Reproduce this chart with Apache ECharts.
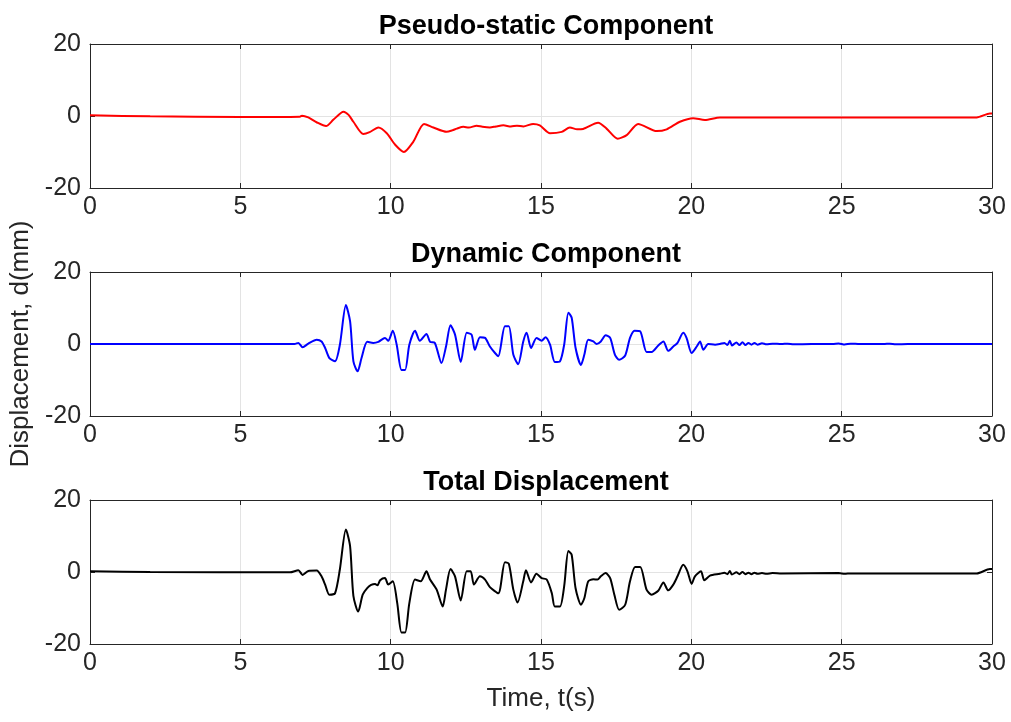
<!DOCTYPE html>
<html>
<head>
<meta charset="utf-8">
<script src="https://cdn.jsdelivr.net/npm/echarts@6/dist/echarts.min.js"></script>
<style>
  html, body { margin: 0; padding: 0; background: #fff; }
  #chart { width: 1011px; height: 722px; }
</style>
</head>
<body>
<div id="chart"></div>
<script>
// 时间轴刻度
const xTicks = [0, 5, 10, 15, 20, 25, 30];
const yTicks = [-20, 0, 20];
const titles = ['Pseudo-static Component', 'Dynamic Component', 'Total Displacement'];

// [t(s), d(mm)] 从图上读取
const pseudoStatic = [
  [0, 0.2], [2, -0.1], [5, -0.3], [6.98, -0.2], [7.05, 0.1], [7.26, -0.4], [7.55, -1.8],
  [7.85, -2.8], [8.1, -1.0], [8.43, 1.2], [8.6, 0.3], [8.76, -1.6], [9.09, -5.0], [9.3, -4.5],
  [9.59, -3.2], [9.87, -4.8], [10.15, -8.0], [10.44, -10.0], [10.75, -7.2], [11.11, -2.2],
  [11.42, -3.2], [11.86, -4.4], [12.05, -4.0], [12.2, -3.5], [12.42, -3.0], [12.6, -3.2],
  [12.86, -2.7], [13.05, -3.0], [13.3, -3.2], [13.5, -2.9], [13.75, -2.6], [14.0, -2.9],
  [14.2, -2.7], [14.41, -2.9], [14.74, -2.2], [14.96, -2.6], [15.3, -4.8], [15.69, -4.4],
  [15.96, -3.2], [16.2, -3.7], [16.4, -3.6], [16.9, -1.9], [17.18, -3.5], [17.55, -6.3],
  [17.85, -5.3], [18.23, -2.2], [18.85, -4.2], [19.18, -3.7], [19.62, -1.6], [20.06, -0.6],
  [20.45, -1.1], [20.95, -0.4], [29.49, -0.4], [29.93, 0.7], [30, 0.7]
];

const dynamic = [
  [0, 0], [6.8, 0], [6.93, 0.3], [7.07, -0.9], [7.26, 0.1], [7.54, 1.2], [7.7, 0.7], [7.82, -1.1],
  [7.96, -3.9], [8.15, -4.8], [8.31, -0.2], [8.51, 10.8], [8.65, 6.3], [8.76, -4.8], [8.9, -7.6],
  [9.03, -3.9], [9.22, 0.6], [9.42, 0.3], [9.59, 0.6], [9.81, 1.7], [9.92, 0.9], [10.07, 3.7],
  [10.2, -0.2], [10.36, -7.2], [10.48, -7.2], [10.62, -0.2], [10.81, 3.7], [10.97, 0.9],
  [11.19, 2.8], [11.31, 0.6], [11.47, 0.3], [11.69, -5.3], [11.84, -0.7], [11.99, 5.2],
  [12.14, 2.6], [12.33, -5.0], [12.53, 3.1], [12.69, 2.6], [12.8, -1.6], [12.97, 1.9],
  [13.14, 1.7], [13.3, -0.7], [13.47, -2.5], [13.58, -3.4], [13.8, 4.9], [13.93, 4.9],
  [14.08, -3.0], [14.24, -5.6], [14.41, 0.7], [14.52, 3.1], [14.67, -1.1], [14.85, 1.7],
  [15.02, 0.9], [15.15, 1.9], [15.3, -0.2], [15.46, -5.0], [15.63, -4.8], [15.77, -0.2],
  [15.91, 8.7], [16.02, 7.3], [16.15, -1.1], [16.33, -5.8], [16.44, -3.0], [16.57, 1.2],
  [16.74, 0.7], [16.85, 0], [16.99, 0.7], [17.15, 2.4], [17.3, 1.7], [17.46, -3.0], [17.6, -4.4],
  [17.8, -3.2], [17.96, 1.7], [18.11, 3.7], [18.3, 3.5], [18.51, -2.2], [18.68, -2.2],
  [18.9, -0.4], [19.07, 0.7], [19.23, -1.9], [19.4, -0.7], [19.54, 0.3], [19.73, 3.1],
  [19.84, 1.7], [20.01, -2.5], [20.18, -0.7], [20.29, 0.7], [20.4, -1.6], [20.56, 0],
  [20.79, -0.2], [20.95, 0], [21.1, 0.3], [21.2, -0.3], [21.28, 0.9], [21.35, -0.4], [21.5, 0.4],
  [21.6, -0.3], [21.7, 0.5], [21.8, -0.3], [21.9, 0.3], [22.0, -0.2], [22.1, 0.3], [22.2, -0.2],
  [22.35, 0.2], [22.5, -0.1], [22.7, 0.1], [23.0, 0], [23.2, 0.1], [23.4, -0.1], [24.0, 0],
  [24.7, 0], [24.9, 0.15], [25.1, -0.15], [25.3, 0.1], [25.6, 0], [26.4, 0], [26.6, 0.1],
  [26.8, -0.1], [27.2, 0], [30, 0]
];

const total = [
  [0, 0.2], [2, 0], [6.65, -0.1], [6.93, 0.5], [7.07, -0.8], [7.26, 0.3], [7.54, 0.4],
  [7.7, -1.2], [7.82, -3.5], [7.96, -6.3], [8.15, -5.9], [8.31, 0.7], [8.51, 11.8], [8.65, 7.2],
  [8.76, -6.6], [8.92, -11.0], [9.07, -6.3], [9.22, -4.5], [9.35, -3.6], [9.48, -3.3],
  [9.56, -3.7], [9.65, -2.3], [9.81, -1.7], [9.92, -3.5], [10.07, -2.6], [10.22, -8.7],
  [10.36, -16.8], [10.48, -16.8], [10.62, -8.7], [10.81, -2.1], [11.0, -2.6], [11.19, 0.2],
  [11.31, -2.1], [11.53, -4.9], [11.73, -9.6], [11.84, -4.9], [11.99, 0.8], [12.14, -1.2],
  [12.33, -7.9], [12.53, 0.2], [12.66, 0.2], [12.77, -3.5], [12.97, -1.2], [13.14, -2.1],
  [13.3, -4.2], [13.58, -5.9], [13.8, 2.7], [13.93, 2.3], [14.08, -4.9], [14.22, -8.5],
  [14.41, -2.6], [14.5, 0.5], [14.67, -2.9], [14.85, -0.5], [15.02, -1.7], [15.19, -2.1],
  [15.36, -5.9], [15.46, -9.6], [15.63, -9.6], [15.77, -4.0], [15.91, 5.8], [16.02, 4.8],
  [16.15, -4.5], [16.33, -9.1], [16.44, -7.3], [16.57, -2.6], [16.74, -2.0], [16.88, -2.1],
  [16.99, -1.2], [17.15, -0.3], [17.3, -1.7], [17.44, -6.3], [17.6, -10.5], [17.8, -9.1],
  [17.96, -2.6], [18.13, 1.4], [18.3, 1.4], [18.51, -4.9], [18.68, -6.3], [18.9, -5.2],
  [19.07, -2.9], [19.23, -5.1], [19.4, -3.5], [19.54, -1.2], [19.73, 2.0], [19.87, 0.2],
  [20.01, -3.3], [20.12, -1.2], [20.32, 0.2], [20.43, -2.3], [20.62, -1.0], [20.95, -0.5],
  [21.1, -0.2], [21.2, -0.6], [21.28, 0.3], [21.35, -0.7], [21.5, -0.1], [21.6, -0.6], [21.7, 0],
  [21.8, -0.6], [21.9, -0.2], [22.0, -0.6], [22.1, -0.2], [22.2, -0.5], [22.35, -0.3],
  [22.5, -0.5], [22.7, -0.3], [23.0, -0.4], [24.9, -0.3], [25.1, -0.5], [25.3, -0.4],
  [29.49, -0.4], [29.93, 0.8], [30, 0.8]
];

const seriesData = [pseudoStatic, dynamic, total];
const lineColors = ['#ff0000', '#0000ff', '#000000'];

const font = 'Liberation Sans, Arial, Helvetica, sans-serif';
const axisColor = '#262626';
const gridTops = [44, 272, 500];
const gridHeight = 144;

const chart = echarts.init(document.getElementById('chart'));

const option = {
  animation: false,
  backgroundColor: '#ffffff',
  title: titles.map((t, i) => ({
    text: t,
    left: 541,
    textAlign: 'center',
    top: gridTops[i] - 36,
    textStyle: { fontFamily: font, fontSize: 27, fontWeight: 'bold', color: '#000' },
  })),
  grid: gridTops.map((top) => ({ left: 90, right: 19, top: top, height: gridHeight })),
  xAxis: [],
  yAxis: [],
  series: [],
};

gridTops.forEach((top, i) => {
  // 下方主轴
  option.xAxis.push({
    type: 'value',
    gridIndex: i,
    min: xTicks[0],
    max: xTicks[xTicks.length - 1],
    interval: 5,
    axisLine: { onZero: false, lineStyle: { color: axisColor, width: 1 } },
    axisTick: { inside: true, length: 5, lineStyle: { color: axisColor } },
    splitLine: { show: true, lineStyle: { color: '#e3e3e3', width: 1 } },
    axisLabel: { fontFamily: font, fontSize: 25, color: axisColor, margin: 7 },
    name: i === 2 ? 'Time, t(s)' : '',
    nameLocation: 'middle',
    nameGap: 42,
    nameTextStyle: { fontFamily: font, fontSize: 26, color: axisColor },
  });
  // 上方边框
  option.xAxis.push({
    type: 'value',
    gridIndex: i,
    position: 'top',
    min: xTicks[0],
    max: xTicks[xTicks.length - 1],
    interval: 5,
    axisLine: { onZero: false, lineStyle: { color: axisColor, width: 1 } },
    axisTick: { inside: true, length: 5, lineStyle: { color: axisColor } },
    splitLine: { show: false },
    axisLabel: { show: false },
  });
  option.yAxis.push({
    type: 'value',
    gridIndex: i,
    min: yTicks[0],
    max: yTicks[yTicks.length - 1],
    interval: 20,
    axisLine: { show: true, onZero: false, lineStyle: { color: axisColor, width: 1 } },
    axisTick: { show: true, inside: true, length: 5, lineStyle: { color: axisColor } },
    splitLine: { show: true, lineStyle: { color: '#e3e3e3', width: 1 } },
    axisLabel: { fontFamily: font, fontSize: 25, color: axisColor, margin: 9 },
    name: i === 1 ? 'Displacement, d(mm)' : '',
    nameLocation: 'middle',
    nameGap: 48,
    nameTextStyle: { fontFamily: font, fontSize: 26, color: axisColor },
  });
  // 右侧边框
  option.yAxis.push({
    type: 'value',
    gridIndex: i,
    position: 'right',
    min: yTicks[0],
    max: yTicks[yTicks.length - 1],
    interval: 20,
    axisLine: { show: true, onZero: false, lineStyle: { color: axisColor, width: 1 } },
    axisTick: { show: true, inside: true, length: 5, lineStyle: { color: axisColor } },
    splitLine: { show: false },
    axisLabel: { show: false },
  });
  option.series.push({
    type: 'line',
    xAxisIndex: i * 2,
    yAxisIndex: i * 2,
    data: seriesData[i],
    showSymbol: false,
    smooth: 0.25,
    lineStyle: { color: lineColors[i], width: 2 },
    z: 3,
  });
});

chart.setOption(option);
</script>
</body>
</html>
